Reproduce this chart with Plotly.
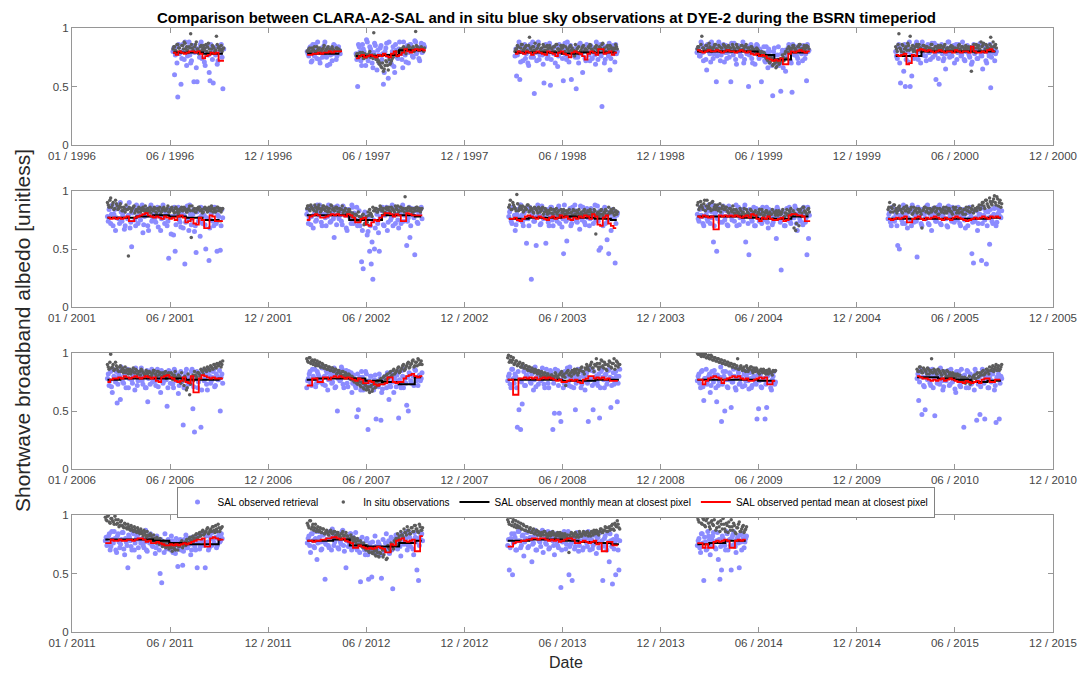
import plotly.graph_objects as go
import pandas as pd

# ---------------- tick labels ----------------
ticks_p1 = ["01 / 1996", "06 / 1996", "12 / 1996", "06 / 1997", "12 / 1997", "06 / 1998",
            "12 / 1998", "06 / 1999", "12 / 1999", "06 / 2000", "12 / 2000"]
ticks_p2 = ["01 / 2001", "06 / 2001", "12 / 2001", "06 / 2002", "12 / 2002", "06 / 2003",
            "12 / 2003", "06 / 2004", "12 / 2004", "06 / 2005", "12 / 2005"]
ticks_p3 = ["01 / 2006", "06 / 2006", "12 / 2006", "06 / 2007", "12 / 2007", "06 / 2008",
            "12 / 2008", "06 / 2009", "12 / 2009", "06 / 2010", "12 / 2010"]
ticks_p4 = ["01 / 2011", "06 / 2011", "12 / 2011", "06 / 2012", "12 / 2012", "06 / 2013",
            "12 / 2013", "06 / 2014", "12 / 2014", "06 / 2015", "12 / 2015"]
panel_start_years = [1996, 2001, 2006, 2011]

# ---------------- data (albedo x 100) ----------------
# sal_* / sal2_* : SAL retrievals, two overpasses per 3-day slot
# ins_* / ins2_* : in situ observations, same sampling
# mon_* : monthly means (calendar months); pen_* : pentad (5-day) means
start_1996 = "1996-07-07"
sal_1996 = [80,60,84,41,78,52,86,73,82,76,88,70,80,54,83,54,79,86,74,81,68,85,77,55,82,53,79,84,72,80,86,48]
sal2_1996 = [83,77,70,86,79,74,81,88,68,84,77,72,85,79,66,82,75,88,80,71,84,78,62,86,73,81,77,69,84,79,75,82]
ins_1996 = [82,84,80,86,83,79,85,88,82,81,84,95,83,80,86,82,78,84,81,85,83,80,87,79,82,84,80,93,83,81,85,82]
ins2_1996 = [84,81,86,83,80,85,82,87,84,79,83,86,81,84,88,82,80,85,83,81,86,84,82,79,85,83,81,86,84,82,80,83]
mon_1996 = [79,79,78,78]
pen_1996 = [79,77,80,79,78,79,80,80,79,80,78,74,76,77,79,78,79,72,72]

start_1997a = "1997-03-14"
sal_1997a = [80,76,84,72,79,86,74,81,70,83,77,88,75,80,69,82,78,85,73,79,81]
sal2_1997a = [78,83,71,86,76,82,88,73,80,75,85,79,68,83,77,72,86,80,76,84,78]
ins_1997a = [80,82,79,83,81,80,84,82,79,81,83,80,82,84,81,79,82,80,83,81,80]
ins2_1997a = [81,83,80,82,84,79,81,83,80,82,85,81,83,80,82,84,81,80,83,82,81]
mon_1997a = [78,78,78]
pen_1997a = [77,77,78,78,79,78,79,79,80,79,80,80,80]

start_1997b = "1997-06-13"
sal_1997b = [78,50,84,72,86,80,68,88,75,82,70,79,85,64,77,83,73,52,80,87,57,76,69,84,62,81,74,88,78,66,83,71,85,79,86,76,82,88,80,74,84,79,86]
sal2_1997b = [73,86,80,68,82,77,90,72,84,79,66,87,74,81,70,85,78,62,83,76,88,71,80,67,86,75,82,79,73,88,77,84,70,86,81,75,89,78,83,72,87,80,84]
ins_1997b = [76,78,75,77,79,74,77,76,78,75,77,96,76,74,72,70,66,63,68,71,64,69,72,75,78,80,77,79,81,83,80,78,82,84,81,83,80,97,84,81,83,82,80]
ins2_1997b = [78,75,79,76,74,78,75,77,80,76,74,77,73,71,69,67,70,65,72,68,73,70,74,77,79,76,80,82,79,84,81,83,85,82,80,84,82,85,83,81,84,82,83]
mon_1997b = [76,76,77,81,81]
pen_1997b = [74,76,77,75,76,77,76,75,77,76,78,76,75,78,80,76,77,79,82,80,79,81,82,81,82,81]

start_1998 = "1998-04-05"
sal_1998 = [76,59,84,56,80,72,86,78,70,82,75,88,44,79,84,73,81,77,53,86,74,80,51,83,78,70,85,76,82,79,55,87,
            73,80,84,56,77,81,48,75,86,79,62,83,72,80,77,85,74,81,69,84,78,86,33,79,73,82,76,64,80,85,71,78]
sal2_1998 = [82,77,88,71,85,79,74,83,68,86,80,75,84,72,88,77,82,69,85,79,76,87,73,81,84,78,67,86,80,74,83,77,
             88,71,85,79,82,75,84,70,87,78,81,74,86,79,72,84,80,77,88,73,82,76,85,70,84,79,87,74,82,78,86,80]
ins_1998 = [80,82,84,79,86,81,83,85,80,92,82,84,81,79,83,86,82,80,84,81,85,83,79,82,84,80,86,82,81,83,85,80,
            78,82,84,81,79,76,80,83,78,81,84,80,82,79,83,85,81,80,84,82,79,83,86,81,80,84,82,85,83,80,82,84]
ins2_1998 = [82,85,80,83,86,82,84,81,85,83,80,84,87,82,85,80,83,86,81,84,82,85,83,80,84,86,82,81,85,83,79,84,
             82,80,85,83,81,86,82,84,80,83,85,82,81,84,86,82,80,83,85,81,84,82,87,83,80,85,82,84,81,83,86,82]
mon_1998 = [79,79,79,78,79,79,79]
pen_1998 = [78,80,79,78,80,79,77,79,80,79,78,77,80,79,78,76,79,80,78,77,75,79,80,79,78,76,73,78,80,79,77,82,82,78,79,80,77,79]

start_1999 = "1999-03-10"
sal_1999 = [79,83,76,86,72,81,64,84,78,88,74,82,54,80,86,77,83,71,85,79,75,54,82,87,73,80,84,76,81,70,
            85,78,50,83,74,80,69,86,77,82,54,79,72,84,66,80,75,42,83,70,77,68,46,81,74,63,79,86,72,45,
            80,84,76,70,82,78,85,74,55,80]
sal2_1999 = [82,76,88,79,84,73,86,80,71,85,78,83,76,88,72,81,86,79,74,84,80,87,77,82,69,85,79,76,88,73,
             81,84,77,86,70,83,79,85,74,80,76,84,71,79,82,75,68,80,77,72,84,70,78,66,81,75,83,79,70,86,
             77,82,74,85,79,72,83,78,86,81]
ins_1999 = [82,84,80,93,83,81,85,82,84,80,83,86,82,81,84,83,80,85,82,84,81,83,86,82,80,84,83,81,85,82,
            84,80,83,81,84,82,80,83,81,79,80,76,78,74,72,70,75,68,72,66,71,69,74,77,72,80,82,84,81,83,
            85,82,80,84,86,82,83,81,85,84]
ins2_1999 = [84,81,86,83,80,85,82,87,83,81,84,86,82,85,80,83,86,84,81,85,83,80,84,82,86,83,81,85,82,84,
             86,83,80,84,82,81,79,82,80,78,77,79,75,73,76,71,73,69,70,67,73,70,72,75,78,74,79,83,82,85,
             83,81,84,86,82,80,85,83,84,82]
mon_1999 = [80,80,80,80,77,73,79,79]
pen_1999 = [81,80,79,80,81,80,80,81,80,79,80,81,80,80,79,80,81,80,79,80,78,77,78,76,77,76,74,73,72,73,72,74,69,69,78,80,79,80,81,80,79,80]

start_2000 = "2000-03-14"
sal_2000 = [80,74,86,53,78,63,50,83,71,50,59,82,76,88,73,81,85,77,84,72,86,79,82,75,87,56,80,52,84,78,
            74,65,83,88,79,76,85,81,73,86,80,77,84,72,82,79,75,69,83,78,81,74,86,77,65,80,72,84,76,49,
            79,83,78]
sal2_2000 = [76,84,70,82,79,86,73,80,88,77,82,74,86,79,83,70,88,81,76,84,79,73,87,82,77,85,74,80,86,72,
             83,78,88,75,81,84,70,86,79,82,76,88,73,80,85,77,83,71,86,79,74,82,87,76,80,84,70,79,86,75,
             82,72,80]
ins_2000 = [84,80,95,82,86,79,83,81,85,93,82,80,84,86,81,83,80,85,82,84,81,83,86,82,80,84,83,81,85,82,
            84,80,83,81,84,82,80,83,81,85,82,84,80,83,81,84,82,63,80,83,86,84,82,88,85,80,86,83,82,92,
            81,84,86]
ins2_2000 = [82,86,83,80,85,82,84,87,81,83,85,82,80,84,86,83,81,85,82,84,80,83,86,82,84,81,85,83,80,84,
             86,82,83,81,85,84,82,80,83,86,81,84,82,85,83,80,84,82,86,79,83,85,81,84,87,82,85,83,86,84,
             88,85,83]
mon_2000 = [76,76,80,80,80,80,80]
pen_2000 = [77,76,77,78,69,70,77,76,81,82,81,80,81,80,79,80,81,80,79,80,80,79,81,80,79,80,80,79,84,80,79,79,80,79,81,82,80]

start_2001 = "2001-03-08"
sal_2001 = [78,84,72,88,80,66,85,76,90,74,82,70,86,79,68,52,83,75,88,72,80,86,64,78,84,70,82,88,75,80,
            73,86,79,66,84,77,82,70,42,85,78,62,48,80,86,73,81,68,37,84,76,88,71,80,65,47,83,77,86,72,
            79,50,84,40,75,86,70,82,48,78,49,84]
sal2_2001 = [74,86,80,70,84,77,88,72,82,79,67,85,76,90,73,81,86,70,78,84,75,88,71,83,79,66,86,74,81,77,
             85,69,82,76,88,72,80,74,84,63,78,86,71,82,75,69,84,79,73,87,66,80,76,84,70,82,74,61,79,85,
             71,77,83,68,80,74,86,72,79,84,70,77]
ins_2001 = [90,86,94,88,84,92,87,85,89,83,86,82,84,44,85,83,86,81,84,82,85,83,86,84,82,85,83,81,84,86,
            82,85,83,80,84,86,83,85,82,84,86,83,85,82,80,84,86,83,85,82,84,87,60,83,85,82,84,86,83,81,
            85,84,82,86,83,85,84,82,86,83,85,84]
ins2_2001 = [88,92,86,90,85,89,84,87,86,83,85,88,84,86,82,85,87,83,84,86,82,85,83,87,84,82,86,84,83,85,
             81,84,86,82,85,83,84,87,82,85,83,81,86,84,82,85,83,86,84,82,85,83,87,84,82,85,86,83,84,82,
             86,85,83,84,87,82,85,83,86,84,82,85]
mon_2001 = [77,77,78,79,78,77,75,74]
pen_2001 = [77,76,77,76,77,76,77,78,74,74,77,78,79,80,81,79,78,77,78,77,76,78,77,76,77,75,78,79,77,73,74,76,72,71,77,75,68,68,79,78,74,74,74]

start_2002 = "2002-03-14"
sal_2002 = [80,72,86,78,68,84,75,82,88,73,80,85,70,78,86,74,82,60,79,87,76,83,71,85,79,66,84,77,88,72,
            80,86,74,70,39,33,82,76,65,48,37,24,50,84,72,48,78,86,70,81,66,83,75,88,79,72,85,68,80,86,
            74,82,53,77,60,85,79,45,83,72,80,86]
sal2_2002 = [84,77,71,86,80,74,88,79,83,70,85,77,82,88,73,80,76,86,71,83,79,74,87,80,68,84,78,72,86,81,
             75,70,83,77,66,80,72,62,78,70,56,75,68,80,64,77,83,71,79,86,73,82,77,70,86,80,75,84,72,88,
             79,83,74,86,70,81,77,85,73,80,84,76]
ins_2002 = [85,87,83,86,84,88,82,86,85,83,87,84,86,82,85,88,84,83,86,85,82,84,87,83,85,81,84,82,78,80,
            76,79,82,74,77,80,72,78,82,84,80,86,83,85,82,84,86,83,81,85,84,86,82,85,83,87,84,82,86,83,
            85,95,84,86,83,85,82,84,86,83,85,84]
ins2_2002 = [87,84,88,85,83,86,84,88,82,85,87,83,86,84,82,87,85,83,86,82,85,84,81,83,80,82,84,79,81,77,
             80,74,78,75,79,71,76,73,79,81,78,83,85,82,84,87,83,85,82,86,84,83,86,84,82,85,87,83,86,84,
             82,85,83,86,84,82,85,83,86,84,82,85]
mon_2002 = [79,79,79,75,75,79,79,78]
pen_2002 = [75,78,79,80,79,77,77,78,79,80,79,80,79,79,78,80,79,77,73,73,76,77,71,70,73,75,74,77,79,81,81,80,78,80,79,74,74,81,80,79,79,79,79]

start_2003 = "2003-03-25"
sal_2003 = [78,84,72,86,66,80,75,88,79,70,83,55,76,86,24,81,74,53,88,79,72,84,77,55,82,70,86,75,80,83,
            74,87,78,69,46,82,57,76,85,72,80,88,74,82,67,79,86,73,84,77,70,85,79,82,75,87,49,51,78,84,
            72,58,46,80,76,83,38,79]
sal2_2003 = [82,74,86,79,71,84,77,88,73,81,76,86,70,83,79,74,85,78,82,71,87,76,80,84,73,79,86,70,82,77,
             85,72,80,76,88,74,81,78,70,86,77,83,73,80,87,75,82,71,85,79,76,84,72,88,80,74,83,78,70,86,
             79,75,82,66,84,77,72,81]
ins_2003 = [86,92,84,88,85,97,83,87,85,82,86,84,88,83,85,82,86,84,81,85,83,86,82,84,80,83,85,81,84,82,
            80,83,79,82,84,80,83,81,78,82,84,80,83,81,79,82,80,84,81,83,79,82,80,84,63,81,78,83,80,82,
            84,79,86,81,83,85,82,80]
ins2_2003 = [88,84,90,86,83,89,85,84,87,83,85,88,82,86,84,81,85,83,86,82,84,80,85,82,83,81,84,80,83,85,
             82,79,84,81,83,80,82,84,81,79,83,80,82,84,80,78,83,81,79,82,84,80,81,83,79,82,80,84,78,81,
             83,80,82,84,81,79,83,82]
mon_2003 = [76,76,77,77,78,77,76,75]
pen_2003 = [76,76,77,75,74,76,78,79,78,77,76,78,77,76,75,77,78,76,77,79,77,78,76,75,77,76,78,77,79,78,76,80,78,71,70,77,79,72,70,68]

start_2004 = "2004-03-10"
sal_2004 = [80,74,86,78,70,84,76,88,72,82,56,79,48,85,73,81,87,75,83,70,86,78,82,74,88,80,71,84,77,85,
            56,79,45,82,74,86,70,80,77,84,72,81,75,86,68,80,83,73,78,59,84,76,32,82,70,80,75,86,72,81,
            77,85,66,82,74,80,86,73,45,59]
sal2_2004 = [76,84,79,72,86,80,74,83,77,88,70,82,76,85,79,73,84,78,71,87,80,75,83,79,70,86,77,82,74,88,
             79,72,84,76,81,70,85,78,74,82,86,77,80,73,84,78,71,83,76,86,79,73,82,77,70,85,79,74,83,78,
             87,72,80,76,84,71,82,77,86,79]
ins_2004 = [88,84,91,86,89,83,92,87,85,90,84,88,86,83,89,85,87,84,86,82,85,83,87,81,84,82,80,83,81,85,
            79,82,80,84,78,81,83,79,82,80,84,78,81,83,79,82,80,76,81,83,79,82,80,84,78,81,79,83,85,80,
            68,66,79,70,84,81,86,82,80,85]
ins2_2004 = [90,86,88,84,92,87,85,89,83,91,86,84,88,85,82,87,84,86,83,81,85,82,84,80,83,81,85,79,82,80,
             84,81,79,83,80,82,78,81,84,80,82,79,83,81,78,80,84,82,79,81,83,80,82,77,81,84,80,82,79,83,
             81,72,84,82,78,86,83,81,84,82]
mon_2004 = [78,78,78,77,76,76,78,78]
pen_2004 = [78,77,79,78,77,78,67,67,79,78,79,78,79,78,79,78,77,78,79,77,80,79,76,74,77,76,78,76,75,75,76,77,74,75,79,80,80,79,79,78,74,74]

start_2005 = "2005-02-28"
sal_2005 = [76,82,70,86,74,80,53,50,84,72,79,86,68,82,75,88,73,80,43,77,84,70,81,76,87,72,80,66,85,78,
            74,82,88,71,79,84,76,69,83,77,86,73,80,75,84,70,82,78,68,85,76,81,46,38,74,83,72,80,40,86,
            75,37,82,54,78,72,85,70,80,84,77]
sal2_2005 = [80,73,86,77,82,70,84,79,75,88,72,81,77,85,70,83,79,74,86,78,72,84,80,76,88,71,83,77,81,74,
             86,79,72,84,77,82,70,87,79,74,83,76,80,86,72,79,84,75,81,70,86,78,73,83,77,66,80,85,72,79,
             83,70,77,84,74,80,86,73,81,78,83]
ins_2005 = [84,90,86,82,88,85,83,87,84,81,86,83,85,82,84,80,86,83,81,85,82,68,84,86,83,81,85,82,84,86,
            83,80,85,82,84,81,86,83,85,82,80,84,86,83,81,85,82,84,80,83,86,82,84,81,85,83,86,84,88,90,
            85,92,87,94,89,91,96,88,93,90,86]
ins2_2005 = [86,82,85,88,83,81,86,84,82,85,83,87,82,84,86,81,83,85,82,84,80,83,86,82,85,81,84,83,86,82,
             85,80,84,82,86,83,81,85,83,82,86,84,81,83,85,82,80,84,86,83,82,85,87,83,84,86,88,85,90,87,
             92,89,86,91,88,93,90,95,87,92,89]
mon_2005 = [76,76,76,76,76,76,76,77]
pen_2005 = [76,75,76,77,76,77,78,73,73,76,77,78,76,75,77,76,77,78,77,76,75,77,76,75,77,78,77,76,75,74,75,76,77,76,77,78,77,76,78,77,78,77]

start_2006 = "2006-03-08"
sal_2006 = [78,72,84,66,80,75,57,82,60,86,74,79,83,70,85,77,81,68,84,76,80,87,73,82,70,58,79,84,75,81,
            72,86,78,66,83,76,80,54,85,74,79,70,84,77,65,82,75,38,80,86,73,79,84,52,32,78,70,82,36,85,
            76,81,68,84,74,79,86,72,80,77,50,82]
sal2_2006 = [82,76,71,86,79,84,73,80,88,75,82,70,86,78,83,74,80,87,72,79,84,76,81,70,85,78,73,86,80,76,
             83,71,79,85,74,82,77,70,84,79,73,86,76,81,72,84,78,70,83,76,80,74,86,71,79,84,75,81,68,83,
             78,73,86,80,76,84,71,82,77,85,79,74]
ins_2006 = [90,86,99,88,85,92,87,84,89,86,83,88,85,82,86,84,87,83,85,82,84,86,83,81,85,82,84,80,83,85,
            82,84,81,83,80,82,84,81,83,79,82,80,84,78,81,79,83,76,80,68,82,64,78,81,84,80,83,82,86,84,
            87,85,88,86,89,87,90,88,91,89,92,90]
ins2_2006 = [88,92,87,90,86,89,85,88,84,87,85,83,86,84,82,85,83,86,82,84,81,85,83,82,84,80,83,81,85,82,
             80,84,82,79,83,81,78,82,80,83,77,81,79,76,80,74,78,72,77,70,75,73,79,76,81,78,83,80,85,82,
             86,84,87,85,88,86,90,87,89,91,88,93]
mon_2006 = [77,78,78,78,78,77,77,78]
pen_2006 = [75,77,78,78,79,78,80,79,78,79,80,79,78,79,80,79,78,79,76,75,79,80,81,79,78,76,75,76,79,75,74,80,66,66,78,81,80,79,78,79,78,78,78]

start_2007 = "2007-03-14"
sal_2007 = [70,78,84,72,80,86,74,82,76,88,73,80,85,68,79,83,75,87,71,50,82,77,86,70,80,74,84,78,66,81,
            72,45,51,79,84,68,76,82,34,73,80,70,77,43,74,82,42,69,78,75,83,60,71,79,66,76,81,44,73,85,
            70,78,55,50,82,74,80,86,76,72,81,78]
sal2_2007 = [76,82,74,86,78,71,84,80,75,87,79,72,83,77,86,74,81,70,84,78,76,88,73,80,85,71,79,83,74,77,
             70,82,75,68,79,72,84,70,76,80,73,68,81,75,71,78,66,74,80,70,77,72,82,75,79,71,84,77,70,80,
             86,74,79,83,76,81,72,85,78,80,76,83]
ins_2007 = [95,92,96,93,90,94,91,89,92,88,90,87,89,86,88,85,87,84,86,83,85,82,84,81,83,80,82,78,80,76,
            78,74,76,72,75,70,73,68,71,66,72,69,74,71,76,73,78,75,80,77,82,79,84,81,86,83,85,88,84,87,
            90,86,89,92,88,91,94,89,92,95,90,93]
ins2_2007 = [93,96,91,94,92,89,93,90,88,91,87,89,86,88,85,87,84,86,82,85,83,81,84,80,82,79,81,77,79,75,
             77,73,75,71,74,69,72,70,68,71,67,73,70,75,72,77,74,79,76,81,78,83,80,85,82,84,87,83,86,89,
             85,88,91,87,90,93,88,92,89,94,91,90]
mon_2007 = [77,78,78,78,76,75,73,79]
pen_2007 = [72,72,78,78,75,75,79,79,77,79,80,79,80,79,78,79,78,77,76,78,77,74,74,76,75,73,72,73,73,74,79,79,75,74,75,75,78,80,81,82,80,79,80]

start_2008 = "2008-03-22"
sal_2008 = [76,82,70,86,74,80,36,51,34,56,84,72,80,86,75,82,68,88,79,73,84,77,81,70,86,74,80,83,34,48,
            78,85,48,41,82,74,80,87,72,79,84,70,51,81,76,86,73,80,68,83,41,77,85,51,74,80,72,44,84,79,
            70,82,76,86,53,78,73,84,58,80]
sal2_2008 = [80,73,86,78,82,70,84,77,75,88,72,81,79,84,74,86,77,71,83,80,76,87,73,79,82,70,85,78,74,86,
             79,72,83,77,70,84,80,75,88,71,82,78,74,86,79,70,83,76,81,74,87,78,72,84,79,75,82,70,86,77,
             81,73,85,79,72,83,76,80,74,86]
ins_2008 = [96,92,97,94,90,93,89,91,88,90,87,89,86,88,85,87,84,86,83,85,82,84,81,83,80,82,79,81,78,80,
            82,79,81,83,80,82,72,84,81,83,85,82,84,86,83,85,88,84,87,90,86,89,92,87,90,95,88,91,94,89,
            92,86,90,93,88,91,95,89,92,90]
ins2_2008 = [98,94,92,96,91,93,90,92,88,91,87,89,85,88,84,86,83,85,82,84,80,83,81,79,82,80,78,81,79,83,
             80,78,82,84,81,79,83,85,82,80,84,86,83,81,85,87,84,82,86,88,85,90,87,84,89,91,86,88,93,87,
             90,85,89,92,87,91,86,93,88,90]
mon_2008 = [77,77,77,77,76,76,77,77]
pen_2008 = [77,77,64,64,78,78,79,78,79,78,79,77,78,79,78,79,78,77,76,77,75,75,76,77,76,77,75,74,77,78,80,80,78,79,78,79,77,78,76,76,76]

start_2009 = "2009-03-10"
sal_2009 = [76,82,70,85,59,78,73,80,66,84,75,81,58,72,79,41,84,50,77,70,83,53,75,80,68,86,73,79,71,82,
            76,84,69,78,72,80,74,43,52,81,70,77,43,53,82,75,68,80,73]
sal2_2009 = [80,74,84,71,78,86,76,82,72,79,85,70,81,76,88,73,80,84,71,77,82,75,86,70,79,83,74,78,85,72,
             80,76,83,70,78,86,73,81,76,71,84,78,73,80,82,70,77,84,75]
ins_2009 = [100,99,98,100,97,99,96,98,95,97,94,96,93,95,92,94,91,93,90,92,89,91,88,90,87,95,86,89,85,88,
            84,87,86,88,85,87,84,86,83,85,84,86,83,85,82,84,83,85,84]
ins2_2009 = [99,100,97,98,99,96,97,95,98,94,96,93,95,92,94,91,93,90,92,89,91,88,90,87,89,86,88,87,86,85,
             89,84,86,88,83,85,87,84,82,86,83,85,82,84,86,83,81,84,85]
mon_2009 = [77,77,77,77,76,75]
pen_2009 = [77,77,73,76,78,79,80,79,78,74,77,78,79,80,79,80,78,77,78,76,76,77,78,79,78,79,73,73,76]

start_2010 = "2010-04-23"
sal_2010 = [78,59,84,47,72,51,80,86,74,82,70,46,79,85,73,81,68,84,76,80,72,86,75,82,66,79,84,71,80,36,
            77,85,70,82,74,79,86,42,73,47,81,76,43,84,70,79,75,82,68,40,78,43,80]
sal2_2010 = [82,75,86,79,71,84,77,80,72,86,78,82,74,80,87,76,71,83,79,85,73,80,77,69,84,78,72,86,75,81,
             70,84,77,73,80,68,83,76,79,71,86,74,80,77,70,83,76,85,72,79,82,74,78]
ins_2010 = [86,84,88,83,87,85,82,86,84,95,83,85,82,86,84,81,85,83,80,84,82,79,83,81,78,82,80,76,79,77,
            74,78,75,73,77,80,78,82,79,83,81,85,82,86,84,88,85,89,86,90,87,85,88]
ins2_2010 = [84,88,85,83,86,84,87,82,85,83,86,84,82,85,83,81,84,82,85,80,83,81,79,82,80,77,81,78,76,79,
             75,77,80,76,79,81,78,83,80,82,84,81,83,86,82,85,87,84,88,85,89,86,90]
mon_2010 = [79,79,78,77,75,76]
pen_2010 = [80,79,78,78,77,76,77,76,77,78,76,77,78,77,76,75,75,74,76,75,74,75,76,74,77,78,78,75,75,77,77]

start_2011 = "2011-03-04"
sal_2011 = [78,74,82,70,86,76,80,68,84,72,79,85,66,77,55,81,73,86,70,79,83,64,76,80,72,87,69,78,84,74,
            80,67,82,75,50,42,77,84,71,79,73,82,68,76,80,56,74,70,57,79,83,72,77,66,81,75,70,55,82,73,
            78,85,55,76,70,82,74,79,86,72,80,77,84]
sal2_2011 = [81,76,84,73,79,86,70,82,77,75,85,71,80,74,83,78,70,84,76,81,72,79,85,74,77,70,82,76,80,73,
             78,72,76,70,79,74,68,77,72,75,70,78,73,67,76,71,79,74,69,77,72,80,75,70,78,73,81,76,71,84,
             78,74,82,77,72,80,85,76,81,74,83,78,80]
ins_2011 = [98,95,100,93,97,94,99,92,96,91,95,90,93,89,92,88,91,87,90,86,89,85,88,84,87,83,86,82,84,80,
            83,79,81,77,80,76,78,74,77,73,76,72,75,71,74,70,73,76,72,75,74,77,80,78,81,79,83,80,84,82,
            86,83,85,88,84,87,86,90,85,88,92,86,89]
ins2_2011 = [96,99,94,97,95,92,96,93,90,94,91,89,92,88,90,87,89,86,88,85,87,84,86,82,85,81,83,79,82,78,
             80,76,79,75,77,73,76,72,74,71,73,69,72,70,75,73,76,78,74,77,79,76,81,78,82,80,84,81,85,83,
             87,84,86,89,85,88,90,87,91,86,89,88,90]
mon_2011 = [79,79,79,78,76,75,75,79]
pen_2011 = [76,76,79,78,78,79,78,78,79,79,78,79,80,80,79,77,78,76,76,77,76,75,74,74,75,74,75,74,75,76,75,76,77,78,79,79,80,73,73,80,81,80,79,79]

start_2012 = "2012-03-14"
sal_2012 = [76,82,68,84,73,80,62,86,77,71,83,45,79,74,86,70,81,77,84,72,80,75,87,69,55,82,76,84,72,79,
            85,70,78,43,81,74,66,80,45,76,47,72,82,68,77,73,46,79,70,84,74,67,81,37,76,83,71,79,65,82,
            75,80,70,85,73,78,66,81,53,44,79,84]
sal2_2012 = [80,74,84,78,72,86,76,81,70,83,77,75,85,72,80,88,74,79,83,71,77,86,74,80,78,73,84,70,81,76,
             72,79,68,76,73,70,78,66,74,71,77,68,73,70,75,66,72,69,76,71,78,73,70,79,75,82,77,73,84,79,
             76,86,74,81,78,71,85,77,80,74,83,78]
ins_2012 = [93,89,95,90,87,92,88,86,89,85,88,84,87,83,86,85,84,86,83,85,82,84,86,83,85,82,80,83,79,81,
            77,80,75,78,73,76,71,74,69,72,68,71,66,70,65,68,72,64,70,62,74,71,76,73,78,80,84,82,86,83,
            88,85,90,87,84,89,86,91,88,85,90,87]
ins2_2012 = [91,95,88,92,89,86,90,87,85,88,84,86,85,83,87,84,86,82,85,83,81,84,82,79,82,80,78,81,77,79,
             75,78,74,76,72,74,70,73,68,71,67,69,65,68,64,67,70,66,69,63,72,69,74,71,77,75,80,78,83,81,
             85,83,87,84,89,86,91,88,86,92,87,89]
mon_2012 = [78,78,79,74,73,73,76,78]
pen_2012 = [78,78,77,78,78,79,79,80,80,81,81,80,79,80,78,77,76,72,72,74,73,72,71,72,71,72,73,72,71,68,68,75,74,78,79,80,78,77,78,79,69,69,82]

start_2013 = "2013-03-22"
sal_2013 = [74,53,80,49,84,70,78,86,72,82,65,79,85,73,81,60,76,87,70,83,77,84,68,80,75,86,72,81,78,66,
            84,74,80,38,77,86,71,82,49,75,44,80,73,85,69,78,83,72,80,76,86,70,79,74,83,67,81,76,72,44,
            80,73,85,60,78,41,71,49,79,53]
sal2_2013 = [79,72,84,76,81,70,86,78,74,83,77,80,72,86,79,75,82,70,84,78,73,87,80,76,83,71,79,85,74,80,
             77,72,84,70,79,82,75,86,73,80,77,71,84,78,74,82,70,79,85,73,80,77,71,83,76,80,72,85,78,74,
             82,70,77,84,73,79,76,82,70,78]
ins_2013 = [96,92,98,94,90,95,91,89,93,88,91,87,90,86,89,85,88,84,87,86,84,85,83,86,84,82,85,83,86,84,
            82,85,83,81,84,82,80,83,68,81,84,82,85,83,81,84,82,86,83,85,82,84,86,83,85,87,84,86,88,85,
            87,89,86,90,88,92,87,91,95,89]
ins2_2013 = [94,98,91,96,92,89,94,90,88,92,87,90,86,88,85,87,84,86,83,85,82,84,86,83,81,84,82,85,83,80,
             84,82,85,83,81,84,82,80,83,85,82,84,81,83,86,82,84,85,83,86,84,82,85,87,84,86,83,88,85,87,
             90,86,89,87,91,88,93,90,92,88]
mon_2013 = [78,78,79,79,78,77,76,75]
pen_2013 = [73,73,76,77,77,78,78,79,79,80,80,79,80,80,79,78,79,78,79,77,78,79,80,80,79,76,76,77,78,77,76,77,78,75,76,69,69,77,77,74,74]

start_2014 = "2014-03-10"
sal_2014 = [74,80,68,84,44,77,71,82,66,79,85,72,78,62,45,53,80,74,86,70,79,53,83,75,68,81,55,77,84,72,80]
sal2_2014 = [78,72,84,76,81,70,86,79,74,82,77,71,85,79,73,82,76,70,84,78,74,81,86,73,79,76,83,70,80,77,82]
ins_2014 = [98,94,100,92,96,90,97,93,88,95,91,99,89,94,86,92,97,88,93,85,90,96,87,91,84,89,94,86,90,85,88]
ins2_2014 = [96,99,93,97,91,95,98,90,94,92,96,87,93,90,95,88,92,86,91,94,87,90,93,85,89,92,86,88,91,87,90]
mon_2014 = [75,76,78,78]
pen_2014 = [76,76,72,75,72,72,77,78,77,78,79,78,72,72,78,79,78,79]

# season table: (panel, start, sal, sal2, insitu, insitu2, monthly, pentad)
seasons = [
    (0, start_1996, sal_1996, sal2_1996, ins_1996, ins2_1996, mon_1996, pen_1996),
    (0, start_1997a, sal_1997a, sal2_1997a, ins_1997a, ins2_1997a, mon_1997a, pen_1997a),
    (0, start_1997b, sal_1997b, sal2_1997b, ins_1997b, ins2_1997b, mon_1997b, pen_1997b),
    (0, start_1998, sal_1998, sal2_1998, ins_1998, ins2_1998, mon_1998, pen_1998),
    (0, start_1999, sal_1999, sal2_1999, ins_1999, ins2_1999, mon_1999, pen_1999),
    (0, start_2000, sal_2000, sal2_2000, ins_2000, ins2_2000, mon_2000, pen_2000),
    (1, start_2001, sal_2001, sal2_2001, ins_2001, ins2_2001, mon_2001, pen_2001),
    (1, start_2002, sal_2002, sal2_2002, ins_2002, ins2_2002, mon_2002, pen_2002),
    (1, start_2003, sal_2003, sal2_2003, ins_2003, ins2_2003, mon_2003, pen_2003),
    (1, start_2004, sal_2004, sal2_2004, ins_2004, ins2_2004, mon_2004, pen_2004),
    (1, start_2005, sal_2005, sal2_2005, ins_2005, ins2_2005, mon_2005, pen_2005),
    (2, start_2006, sal_2006, sal2_2006, ins_2006, ins2_2006, mon_2006, pen_2006),
    (2, start_2007, sal_2007, sal2_2007, ins_2007, ins2_2007, mon_2007, pen_2007),
    (2, start_2008, sal_2008, sal2_2008, ins_2008, ins2_2008, mon_2008, pen_2008),
    (2, start_2009, sal_2009, sal2_2009, ins_2009, ins2_2009, mon_2009, pen_2009),
    (2, start_2010, sal_2010, sal2_2010, ins_2010, ins2_2010, mon_2010, pen_2010),
    (3, start_2011, sal_2011, sal2_2011, ins_2011, ins2_2011, mon_2011, pen_2011),
    (3, start_2012, sal_2012, sal2_2012, ins_2012, ins2_2012, mon_2012, pen_2012),
    (3, start_2013, sal_2013, sal2_2013, ins_2013, ins2_2013, mon_2013, pen_2013),
    (3, start_2014, sal_2014, sal2_2014, ins_2014, ins2_2014, mon_2014, pen_2014),
]
panel_ticks = [ticks_p1, ticks_p2, ticks_p3, ticks_p4]

# ---------------- styling ----------------
# The page body adds an 8 px margin, so the figure is laid out 8 px up/left.
OFF = 8
W, H = 1088 - OFF, 673 - OFF
FONT = "Liberation Sans, Arial, sans-serif"
SAL_COLOR = "rgb(140,140,255)"
INS_COLOR = "rgb(92,92,92)"
AX_COLOR = "rgb(150,150,150)"
TICK_FONT = dict(family=FONT, size=11.5, color="rgb(70,70,70)")


def fx(px):
    return (px - OFF) / W


def fy(py):
    return 1 - (py - OFF) / H


x_left, x_right = fx(72), fx(1053)
panel_px = [(28, 145), (191, 307), (353, 469), (515, 632)]  # (top, bottom) in screen px


def sample_dates(t0, n, offset_h):
    return [t0 + pd.Timedelta(hours=72 * i + offset_h) for i in range(n)]


def build_panel(p):
    xs, ys, xi, yi, xm, ym, xp, yp = [], [], [], [], [], [], [], []
    for (pp, start, sal, sal2, ins, ins2, mon, pen) in seasons:
        if pp != p:
            continue
        t0 = pd.Timestamp(start)
        for vals, off in ((sal, 0), (sal2, 36)):
            xs += sample_dates(t0, len(vals), off) + [None]
            ys += [v / 100 for v in vals] + [None]
        for vals, off in ((ins, 0), (ins2, 36)):
            xi += sample_dates(t0, len(vals), off) + [None]
            yi += [v / 100 for v in vals] + [None]
        t_end = t0 + pd.Timedelta(days=3 * (len(sal) - 1))
        bounds = [t0]
        m = (t0 + pd.offsets.MonthBegin(1)).normalize()
        while m < t_end:
            bounds.append(m)
            m = m + pd.offsets.MonthBegin(1)
        bounds.append(t_end)
        n = min(len(mon), len(bounds) - 1)
        xm += bounds[:n + 1] + [None]
        ym += [v / 100 for v in mon[:n]] + [mon[n - 1] / 100, None]
        pb = [t0 + pd.Timedelta(days=5 * i) for i in range(len(pen) + 1)]
        xp += pb + [None]
        yp += [v / 100 for v in pen] + [pen[-1] / 100, None]
    return xs, ys, xi, yi, xm, ym, xp, yp


fig = go.Figure()
layout_axes = {}
for p in range(4):
    xs, ys, xi, yi, xm, ym, xp, yp = build_panel(p)
    ax = "" if p == 0 else str(p + 1)
    show = p == 0
    fig.add_trace(go.Scatter(x=xs, y=ys, mode="markers", name="SAL observed retrieval",
                             marker=dict(color=SAL_COLOR, size=5, line=dict(width=0)),
                             xaxis="x" + ax, yaxis="y" + ax, showlegend=show, legendrank=1))
    fig.add_trace(go.Scatter(x=xi, y=yi, mode="markers", name="In situ observations",
                             marker=dict(color=INS_COLOR, size=3.5, line=dict(width=0)),
                             xaxis="x" + ax, yaxis="y" + ax, showlegend=show, legendrank=2))
    fig.add_trace(go.Scatter(x=xm, y=ym, mode="lines", line_shape="hv",
                             name="SAL observed monthly mean at closest pixel",
                             line=dict(color="black", width=2), connectgaps=False,
                             xaxis="x" + ax, yaxis="y" + ax, showlegend=show, legendrank=3))
    fig.add_trace(go.Scatter(x=xp, y=yp, mode="lines", line_shape="hv",
                             name="SAL observed pentad mean at closest pixel",
                             line=dict(color="red", width=1.8), connectgaps=False,
                             xaxis="x" + ax, yaxis="y" + ax, showlegend=show, legendrank=4))

    y0 = panel_start_years[p]
    r0 = pd.Timestamp(f"{y0}-01-01")
    r1 = pd.Timestamp(f"{y0 + 5}-01-01")
    tv = list(pd.date_range(r0, r1, periods=11))
    top, bot = panel_px[p]
    layout_axes["xaxis" + ax] = dict(
        domain=[x_left, x_right], anchor="y" + ax, range=[r0, r1], type="date",
        tickmode="array", tickvals=tv, ticktext=panel_ticks[p], automargin=False,
        ticks="inside", ticklen=5, tickcolor=AX_COLOR, showline=True, linecolor=AX_COLOR,
        linewidth=1, mirror="ticks", showgrid=False, zeroline=False, tickfont=TICK_FONT)
    layout_axes["yaxis" + ax] = dict(
        domain=[fy(bot), fy(top)], anchor="x" + ax, range=[0, 1], automargin=False,
        tickmode="array", tickvals=[0, 0.5, 1], ticktext=["0", "0.5", "1"],
        ticks="inside", ticklen=5, tickcolor=AX_COLOR, showline=True, linecolor=AX_COLOR,
        linewidth=1, mirror="ticks", showgrid=False, zeroline=False, tickfont=TICK_FONT)

fig.update_layout(
    width=W, height=H, autosize=False,
    margin=dict(l=0, r=0, t=0, b=0, autoexpand=False),
    paper_bgcolor="white", plot_bgcolor="white",
    font=dict(family=FONT, color="black"),
    legend=dict(orientation="h", x=fx((178 + 933) / 2), xanchor="center",
                y=fy(502), yanchor="middle",
                bordercolor="rgb(130,130,130)", borderwidth=1, bgcolor="white",
                font=dict(family=FONT, size=10, color="black"),
                itemwidth=30, tracegroupgap=0),
    annotations=[
        dict(text="<b>Comparison between CLARA-A2-SAL and in situ blue sky observations at DYE-2 during the BSRN timeperiod</b>",
             x=fx(546), y=fy(17), xref="paper", yref="paper", showarrow=False,
             xanchor="center", yanchor="middle", font=dict(family=FONT, size=15, color="black")),
        dict(text="Shortwave broadband albedo [unitless]", x=fx(22), y=fy(331),
             xref="paper", yref="paper", showarrow=False, textangle=-90,
             xanchor="center", yanchor="middle", font=dict(family=FONT, size=21, color="rgb(40,40,40)")),
        dict(text="Date", x=fx(566), y=fy(662), xref="paper", yref="paper", showarrow=False,
             xanchor="center", yanchor="middle", font=dict(family=FONT, size=16, color="rgb(40,40,40)")),
    ],
    **layout_axes,
)

fig.write_html("out.html")
